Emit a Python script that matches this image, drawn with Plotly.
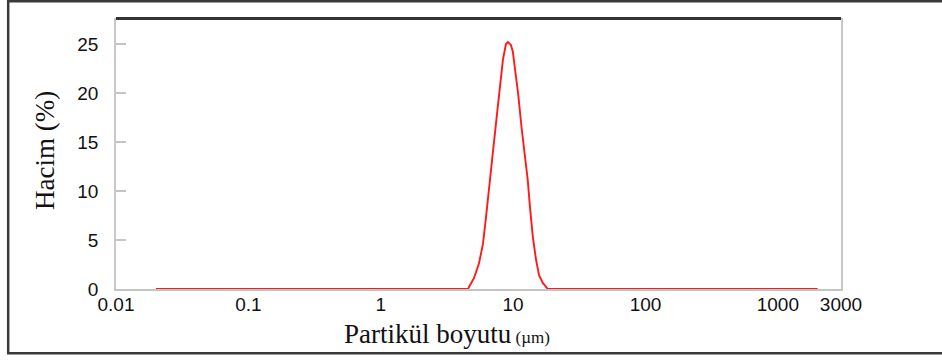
import numpy as np
import plotly.graph_objects as go

# Particle size (µm) and volume (%)
size_um = [0.02, 4.56, 4.64, 5.06, 5.52, 5.92, 6.24, 6.57, 7.04, 7.55, 7.82, 8.09,
           8.38, 8.83, 9.14, 9.62, 9.96, 10.3, 10.9, 11.6, 12.1, 12.9, 13.4, 14.1,
           14.9, 15.7, 16.8, 18.3, 2000]
volume_pct = [0, 0, 0.2, 1.1, 2.6, 4.6, 7.3, 10.5, 14.0, 17.8, 19.7, 21.8,
              23.4, 25.0, 25.2, 24.9, 24.2, 22.6, 20.0, 16.4, 14.3, 11.1, 8.4, 5.3,
              3.0, 1.4, 0.6, 0, 0]

x_tickvals = [0.01, 0.1, 1, 10, 100, 1000, 3000]
x_ticktext = ["0.01", "0.1", "1", "10", "100", "1000", "3000"]
y_tickvals = [0, 5, 10, 15, 20, 25]

fig = go.Figure()
fig.add_trace(go.Scatter(x=size_um, y=volume_pct, mode="lines",
                         line=dict(color="#ff1a1a", width=1.9), showlegend=False))

tick_font = dict(family="Liberation Sans, Arial, sans-serif", size=19, color="#111")
fig.update_layout(
    width=942, height=360,
    margin=dict(l=116, r=101, t=18, b=71),
    paper_bgcolor="white", plot_bgcolor="white",
    xaxis=dict(type="log", range=[-2, np.log10(3000)], tickvals=x_tickvals,
               ticktext=x_ticktext, ticks="", showgrid=False, zeroline=False,
               showline=True, linecolor="#c4c4c4", linewidth=1.5,
               tickfont=tick_font, ticklabelstandoff=-3),
    yaxis=dict(range=[0, 27.65], tickvals=y_tickvals, ticks="inside", ticklen=10,
               tickcolor="#c4c4c4", tickwidth=1.5, showgrid=False, zeroline=False,
               showline=True, linecolor="#c8c8c8", linewidth=1.8, mirror=True,
               tickfont=tick_font, ticklabelstandoff=12),
    shapes=[
        # outer frame
        dict(type="rect", xref="paper", yref="paper", x0=-0.1487, x1=1.25,
             y0=-0.2373, y1=1.0616, line=dict(color="#3a3a3a", width=2.5)),
        # dark top border of the plot area
        dict(type="line", xref="paper", yref="paper", x0=0, x1=1, y0=0.998, y1=0.998,
             line=dict(color="#333", width=3)),
        # small tick marks at 0.02
        dict(type="line", xref="x", yref="paper", x0=np.log10(0.02), x1=np.log10(0.02),
             y0=0, y1=0.033, line=dict(color="#bdbdbd", width=1.5)),
        dict(type="line", xref="x", yref="paper", x0=np.log10(0.02), x1=np.log10(0.02),
             y0=0.99, y1=0.972, line=dict(color="#bdbdbd", width=1.5)),
    ],
    annotations=[
        dict(text="Hacim (%)", xref="paper", yref="paper", x=-0.098, y=0.513,
             textangle=-90, showarrow=False, xanchor="center", yanchor="middle",
             font=dict(family="Liberation Serif, Times New Roman, serif", size=27, color="#111")),
        dict(text="Partikül boyutu<span style='font-size:17px'> (µm)</span>",
             xref="paper", yref="paper", x=0.457, y=-0.165, showarrow=False,
             xanchor="center", yanchor="middle",
             font=dict(family="Liberation Serif, Times New Roman, serif", size=27, color="#111")),
    ],
)

fig.write_html("out.html")
